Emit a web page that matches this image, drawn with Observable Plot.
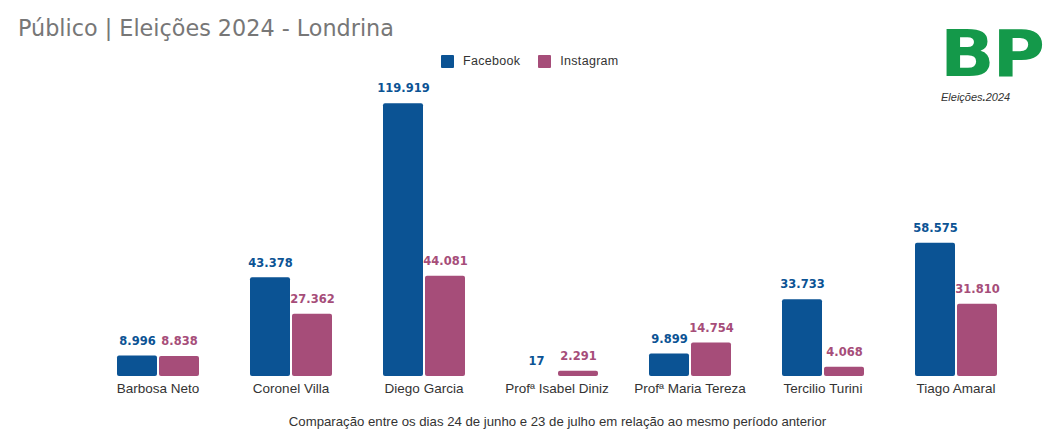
<!DOCTYPE html>
<html>
<head>
<meta charset="utf-8">
<script src="https://cdn.jsdelivr.net/npm/d3@7"></script>
<script src="https://cdn.jsdelivr.net/npm/@observablehq/plot@0.6"></script>
<style>
  html, body { margin: 0; padding: 0; background: #fff; }
  #wrap { position: relative; width: 1055px; height: 446px; overflow: hidden; font-family: "Liberation Sans", Arial, sans-serif; background: #fff; }
  #title { position: absolute; left: 18px; top: 15px; font-family: "DejaVu Sans", Verdana, sans-serif; font-size: 22.3px; color: #777; white-space: nowrap; z-index: 2; }
  #legend { position: absolute; left: 441px; top: 54px; font-size: 12.5px; color: #333; display: flex; align-items: center; letter-spacing: 0.3px; z-index: 2; }
  #legend .sw { width: 13px; height: 13px; border-radius: 1px; display: inline-block; margin-right: 9px; }
  #legend .item { display: flex; align-items: center; margin-right: 18px; }
  #logo-bp { position: absolute; left: 940px; top: 24px; z-index: 2; font-family: "DejaVu Sans", sans-serif; font-weight: bold; font-size: 64px; color: #14994a; letter-spacing: -2px; line-height: 60px; transform: scaleX(1.12); transform-origin: left top; }
  #logo-sub { position: absolute; left: 941px; top: 91px; z-index: 2; font-family: "Liberation Sans", Arial, sans-serif; font-style: italic; font-size: 11px; line-height: 12px; color: #333; }
  #chart { position: absolute; left: 0; top: 75px; z-index: 1; }
  #caption { position: absolute; left: 0; width: 1115px; top: 414px; text-align: center; font-size: 13.2px; color: #333; z-index: 2; }
</style>
</head>
<body>
<div id="wrap">
  <div id="title"></div>
  <div id="legend"></div>
  <div id="logo-bp">BP</div>
  <div id="logo-sub">Eleições<b>.</b>2024</div>
  <div id="chart"></div>
  <div id="caption"></div>
</div>
<script>
const titleText = "Público | Eleições 2024 - Londrina";
const captionText = "Comparação entre os dias 24 de junho e 23 de julho em relação ao mesmo período anterior";
const candidates = ["Barbosa Neto", "Coronel Villa", "Diego Garcia", "Profª Isabel Diniz", "Profª Maria Tereza", "Tercilio Turini", "Tiago Amaral"];
const seriesNames = ["Facebook", "Instagram"];
const facebook = [8996, 43378, 119919, 17, 9899, 33733, 58575];
const instagram = [8838, 27362, 44081, 2291, 14754, 4068, 31810];
const seriesColors = ["#0b5394", "#a64d79"];

document.getElementById("title").textContent = titleText;
document.getElementById("caption").textContent = captionText;

const legend = document.getElementById("legend");
seriesNames.forEach((s, i) => {
  const it = document.createElement("div");
  it.className = "item";
  const sw = document.createElement("span");
  sw.className = "sw";
  sw.style.background = seriesColors[i];
  it.appendChild(sw);
  it.appendChild(document.createTextNode(s));
  legend.appendChild(it);
});

const rows = [];
candidates.forEach((c, i) => {
  rows.push({candidate: c, series: seriesNames[0], value: facebook[i]});
  rows.push({candidate: c, series: seriesNames[1], value: instagram[i]});
});

const fmt = d3.formatLocale({decimal: ",", thousands: ".", grouping: [3], currency: ["R$", ""]}).format(",d");

const chart = Plot.plot({
  width: 1055,
  height: 331,
  marginTop: 28,
  marginBottom: 30,
  marginLeft: 65,
  marginRight: 7,
  style: {fontFamily: "'Liberation Sans', Arial, sans-serif", fontSize: "13.5px", color: "#333", background: "transparent"},
  fx: {domain: candidates, paddingInner: 0.377, paddingOuter: 0.377, axis: "bottom", label: null, tickSize: 0, tickPadding: 7},
  x: {domain: seriesNames, paddingInner: 0.05, paddingOuter: 0, axis: null},
  y: {domain: [0, 120000], axis: null},
  color: {domain: seriesNames, range: seriesColors},
  marks: [
    Plot.barY(rows, {fx: "candidate", x: "series", y: "value", fill: "series", rx: 2}),
    Plot.text(rows, {fx: "candidate", x: "series", y: "value", text: d => fmt(d.value), fill: "series", dy: -15, fontWeight: "bold", fontSize: 11.5, fontFamily: "'DejaVu Sans', Verdana, sans-serif"})
  ]
});
document.getElementById("chart").appendChild(chart);
</script>
</body>
</html>
